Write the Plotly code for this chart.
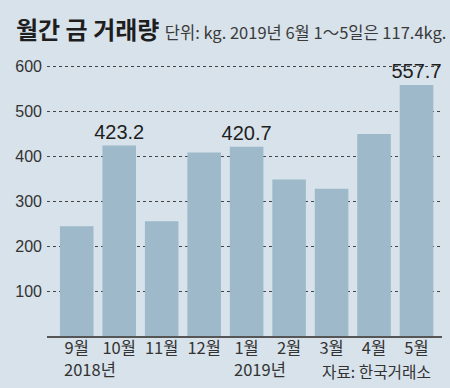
import plotly.graph_objects as go

months = ["9월", "10월", "11월", "12월", "1월", "2월", "3월", "4월", "5월"]
values = [244, 423.2, 255, 408, 420.7, 348, 327, 449, 557.7]
highlight = [1, 4, 8]
year_labels = {0: "2018년", 4: "2019년"}
y_ticks = [100, 200, 300, 400, 500, 600]

title = "월간 금 거래량"
subtitle = "단위: kg. 2019년 6월 1～5일은 117.4kg."
source = "자료: 한국거래소"

BG = "#d7e2ea"
BAR = "#9db9ca"
KR = "Noto Sans CJK KR"
NUM = "Liberation Sans Narrow, Liberation Sans, Arial"

W, H = 450, 388
L, R, T, B = 47, 8, 57, 52
PH = H - T - B

def py(y):
    return (H - B - y) / PH

def px(x):
    return (x - L) / (W - L - R)

texts = [f"{v}" if i in highlight else "" for i, v in enumerate(values)]

fig = go.Figure(go.Bar(
    x=list(range(len(months))), y=values,
    marker_color=BAR, marker_line_width=0,
    text=texts, textposition="outside", cliponaxis=False, constraintext="none",
    textfont=dict(family=NUM, size=20, color="#1e1e1e"),
    width=0.79,
))

annotations = [
    dict(xref="paper", yref="paper", x=px(14), y=py(28), xanchor="left", yanchor="middle",
         showarrow=False,
         text=f"<b>{title}</b> <span style='font-size:16.5px;color:#3a3a3a;font-family:{KR}'>{subtitle}</span>",
         font=dict(family=KR, size=24, color="#1e1e1e")),
    dict(xref="paper", yref="paper", x=px(433), y=py(372), xanchor="right", yanchor="middle",
         showarrow=False, text=source, font=dict(family=KR, size=15.7, color="#333")),
]
for i, lab in year_labels.items():
    annotations.append(dict(xref="x", yref="paper", x=i - 0.35, y=py(369), xanchor="left",
                            yanchor="middle", showarrow=False, text=lab,
                            font=dict(family=KR, size=16.5, color="#333")))

fig.update_layout(
    width=W, height=H, margin=dict(l=L, r=R, t=T, b=B),
    paper_bgcolor=BG, plot_bgcolor=BG, showlegend=False,
    annotations=annotations,
    xaxis=dict(range=[-0.7, 8.6], tickvals=list(range(len(months))), ticktext=months,
               showgrid=False, zeroline=False, showline=True, linecolor="#555", linewidth=1.5,
               ticks="", tickfont=dict(family=KR, size=16.5, color="#333"), ticklabelstandoff=-4),
    yaxis=dict(range=[0, 620], tickvals=y_ticks, showgrid=True, gridcolor="#444",
               gridwidth=1.3, griddash="dot", zeroline=False, ticks="",
               tickfont=dict(family=NUM, size=16, color="#333"), ticklabelstandoff=4),
)

fig.write_html("out.html", config={"displayModeBar": False},
               post_script=f"document.body.style.margin='0';document.body.style.background='{BG}';")
